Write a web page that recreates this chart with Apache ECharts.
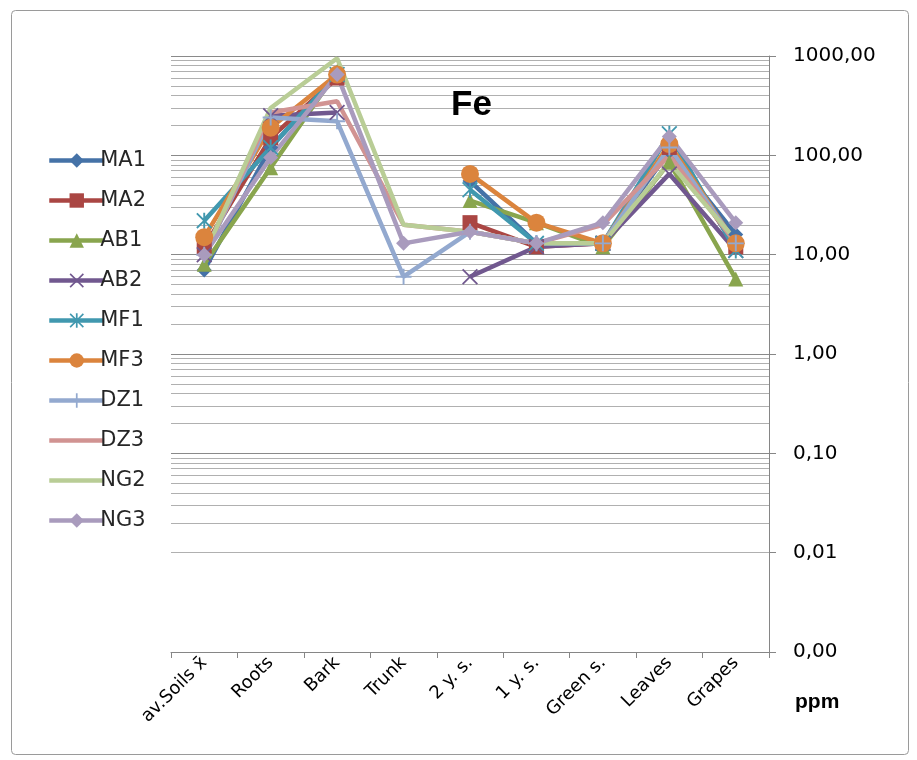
<!DOCTYPE html>
<html>
<head>
<meta charset="utf-8">
<script src="https://cdn.jsdelivr.net/npm/echarts@6/dist/echarts.min.js"></script>
<style>html,body{margin:0;padding:0;background:#fff;}#c{width:917px;height:760px;}</style>
</head>
<body>
<div id="c"></div>
<script>
const categories = ['av.Soils x\u0304','Roots','Bark','Trunk','2 y. s.','1 y. s.','Green s.','Leaves','Grapes'];
const yTickValues = [0.001, 0.01, 0.1, 1, 10, 100, 1000];
const seriesNames = ['MA1','MA2','AB1','AB2','MF1','MF3','DZ1','DZ3','NG2','NG3'];
const MA1 = [7, 120, 650, null, 55, 13, 13, 110, 16];
const MA2 = [12, 150, 600, null, 21, 12, 13, 120, 12];
const AB1 = [8, 75, 700, null, 35, 21, 12, 85, 5.7];
const AB2 = [10, 250, 270, null, 6, 12, 13, 65, 11];
const MF1 = [22, 120, 650, null, 45, 13, 13, 165, 11];
const MF3 = [15, 190, 650, null, 65, 21, 13, 130, 13];
const DZ1 = [10, 240, 220, 6, 17, 13, 13, 120, 13];
const DZ3 = [10, 270, 350, 20, 17, 13, 20, 100, 13];
const NG2 = [10, 300, 950, 20, 17, 13, 13, 85, 14];
const NG3 = [10, 95, 650, 13, 17, 13, 21, 155, 21];
const seriesData = [MA1, MA2, AB1, AB2, MF1, MF3, DZ1, DZ3, NG2, NG3];

const colors = ['#4572A7','#AA4643','#89A54E','#71588F','#4198AF','#DB843D','#93A9CF','#D19392','#B9CD96','#A99BBD'];
const X_PATH = 'path://M0,0.8L0.8,0L5,4.2L9.2,0L10,0.8L5.8,5L10,9.2L9.2,10L5,5.8L0.8,10L0,9.2L4.2,5Z';
const AST_PATH = 'path://M0,0.8L0.8,0L5,4.2L9.2,0L10,0.8L5.8,5L10,9.2L9.2,10L5,5.8L0.8,10L0,9.2L4.2,5Z M4.4,0L5.6,0L5.6,10L4.4,10Z';
const PLUS_PATH = 'path://M4.4,0L5.6,0L5.6,4.4L10,4.4L10,5.6L5.6,5.6L5.6,10L4.4,10L4.4,5.6L0,5.6L0,4.4L4.4,4.4Z';
const symbols = ['diamond','rect','triangle',X_PATH,AST_PATH,'circle',PLUS_PATH,'none','none','diamond'];
const symbolSizes = [15, 15, 15, 16, 16, 18, 16, 0, 0, 15];

// minor log gridlines (2..9 within each decade)
const minorLines = [];
for (let k = -3; k < 3; k++) {
  for (let m = 2; m <= 9; m++) minorLines.push({ yAxis: m * Math.pow(10, k) });
}

const series = seriesNames.map((n, i) => ({
  name: n,
  type: 'line',
  data: seriesData[i],
  connectNulls: false,
  symbol: symbols[i],
  symbolSize: symbolSizes[i],
  showSymbol: symbols[i] !== 'none',
  lineStyle: { width: 4.5, color: colors[i] },
  itemStyle: { color: colors[i] },
  z: 3,
  animation: false
}));
series.unshift({
  name: '_grid',
  type: 'line',
  data: categories.map(() => null),
  silent: true,
  z: 1,
  animation: false,
  markLine: {
    silent: true,
    z: 1,
    symbol: ['none','none'],
    label: { show: false },
    lineStyle: { color: '#b0b0b0', width: 1, type: 'solid' },
    emphasis: { disabled: true },
    animation: false,
    data: minorLines
  }
});

const legendData = seriesNames.map((n, i) => symbols[i] === 'none' ? { name: n, itemStyle: { opacity: 0 } } : { name: n });

const chart = echarts.init(document.getElementById('c'), null, { renderer: 'canvas' });
chart.setOption({
  backgroundColor: '#fff',
  animation: false,
  color: colors,
  title: {
    text: 'Fe', left: 446, top: 83,
    textStyle: { fontFamily: 'Liberation Sans', fontWeight: 'bold', fontSize: 35, color: '#000' }
  },
  legend: {
    data: legendData,
    orient: 'vertical',
    left: 42, top: 145,
    itemWidth: 55, itemHeight: 18, itemGap: 19,
    lineStyle: { width: 4.5 },
    textStyle: { fontFamily: 'DejaVu Sans', fontSize: 21, color: '#262626', padding: [0,0,0,-9] }
  },
  grid: { left: 171, right: 148, top: 56, bottom: 108 },
  xAxis: {
    type: 'category',
    data: categories,
    boundaryGap: true,
    axisLine: { show: true, lineStyle: { color: '#868686', width: 1 } },
    axisTick: { show: true, alignWithLabel: false, length: 6, lineStyle: { color: '#868686' } },
    axisLabel: { rotate: 45, interval: 0, margin: 8, fontFamily: 'DejaVu Sans', fontSize: 18, color: '#000' },
    splitLine: { show: false }
  },
  yAxis: {
    type: 'log',
    logBase: 10,
    position: 'right',
    min: 0.001, max: 1000,
    splitNumber: 6,
    axisLine: { show: true, lineStyle: { color: '#868686', width: 1 } },
    axisTick: { show: true, length: 7, lineStyle: { color: '#868686' } },
    axisLabel: {
      margin: 24, fontFamily: 'DejaVu Sans', fontSize: 20, color: '#000',
      formatter: v => v.toFixed(2).replace('.', ',')
    },
    splitLine: { show: true, lineStyle: { color: '#8a8a8a', width: 1.2 } },
    minorTick: { show: false },
    minorSplitLine: { show: false }
  },
  graphic: [
    { type: 'rect', left: 9, top: 8, shape: { width: 897, height: 744, r: 4 }, style: { fill: 'none', stroke: '#9a9a9a', lineWidth: 1 }, z: 0 },
    { type: 'text', left: 795, top: 692, style: { text: 'ppm', font: 'bold 21px "Liberation Sans"', fill: '#000' } }
  ],
  series: series
});
</script>
</body>
</html>
